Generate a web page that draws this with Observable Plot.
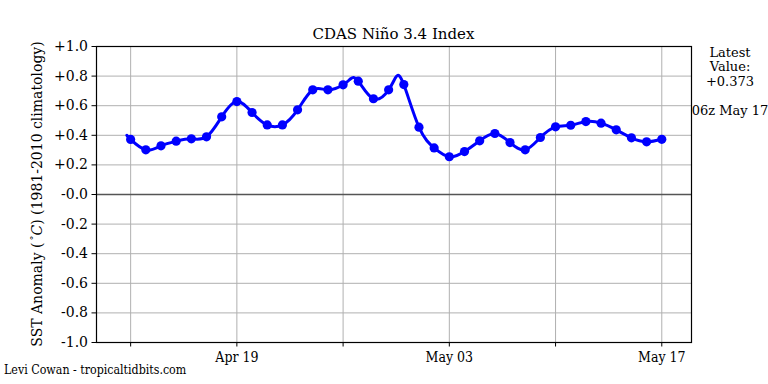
<!DOCTYPE html>
<html>
<head>
<meta charset="utf-8">
<script src="https://cdn.jsdelivr.net/npm/d3@7"></script>
<script src="https://cdn.jsdelivr.net/npm/@observablehq/plot@0.6"></script>
<style>
  html, body { margin: 0; padding: 0; background: #fff; }
  svg { font-family: "DejaVu Serif", serif; }
</style>
</head>
<body>
<div id="chart"></div>
<script>
// ---- data ----
const firstDay = "2020-04-12";
const dailyValues = [
  0.372, 0.302, 0.329, 0.360, 0.376, 0.390, 0.525, 0.628, 0.554, 0.470,
  0.470, 0.572, 0.707, 0.707, 0.741, 0.766, 0.647, 0.707, 0.743, 0.455,
  0.315, 0.255, 0.290, 0.363, 0.412, 0.351, 0.302, 0.385, 0.457, 0.468,
  0.493, 0.482, 0.437, 0.383, 0.356, 0.373
];
// sub-daily samples of the curve (start and two peaks)
const extraTimes = ["2020-04-11T18:00Z", "2020-04-26T12:00Z", "2020-04-29T12:00Z"];
const extraValues = [0.400, 0.782, 0.797];

const xTickDates = ["2020-04-12", "2020-04-19", "2020-04-26", "2020-05-03", "2020-05-10", "2020-05-17"];
const xTickLabels = ["", "Apr 19", "", "May 03", "", "May 17"];
const yTicks = [-1.0, -0.8, -0.6, -0.4, -0.2, 0.0, 0.2, 0.4, 0.6, 0.8, 1.0];
const yTickLabels = ["-1.0", "-0.8", "-0.6", "-0.4", "-0.2", "-0.0", "+0.2", "+0.4", "+0.6", "+0.8", "+1.0"];
const xDomain = ["2020-04-09T18:00Z", "2020-05-18T23:00Z"];

const titleText = "CDAS Niño 3.4 Index";
const sideLines = ["Latest", "Value:", "+0.373"];
const sideTime = "06z May 17";
const footer = "Levi Cowan - tropicaltidbits.com";

// ---- build tables ----
const day0 = new Date(firstDay + "T00:00Z");
const points = dailyValues.map((v, i) => ({ t: new Date(+day0 + i * 864e5), v }));
const linePts = points.concat(extraTimes.map((t, i) => ({ t: new Date(t), v: extraValues[i] })))
  .sort((a, b) => a.t - b.t);
const xTicks = xTickDates.map(d => new Date(d + "T00:00Z"));
const labelMap = new Map(xTicks.map((d, i) => [+d, xTickLabels[i]]));
const yLabelMap = new Map(yTicks.map((d, i) => [d.toFixed(1), yTickLabels[i]]));

const grid = "#b0b0b0";
const chart = Plot.plot({
  width: 768,
  height: 384,
  marginLeft: 96,
  marginRight: 77,
  marginTop: 46,
  marginBottom: 42,
  style: { fontFamily: "DejaVu Serif", background: "white" },
  x: { type: "utc", domain: xDomain.map(d => new Date(d)) },
  y: { domain: [-1, 1] },
  marks: [
    Plot.gridX(xTicks, { stroke: grid, strokeOpacity: 1, strokeWidth: 1 }),
    Plot.gridY(yTicks, { stroke: grid, strokeOpacity: 1, strokeWidth: 1 }),
    Plot.ruleY([0], { stroke: "#555", strokeWidth: 1.3 }),
    Plot.line(linePts, { x: "t", y: "v", curve: "natural", stroke: "#0000ff", strokeWidth: 3 }),
    Plot.dot(points, { x: "t", y: "v", r: 4.6, fill: "#0000ff", stroke: "none" }),
    Plot.axisX({
      ticks: xTicks, tickSize: 4.5, tickPadding: 5, label: null,
      tickFormat: d => labelMap.get(+d) || "",
      fontSize: 14, fontFamily: "DejaVu Serif Condensed", fill: "black"
    }),
    Plot.axisY({
      ticks: yTicks, tickSize: 4.5, tickPadding: 4, label: null,
      tickFormat: d => yLabelMap.get(d.toFixed(1)),
      fontSize: 14, fontFamily: "DejaVu Serif", fill: "black"
    }),
    Plot.frame({ stroke: "black", strokeWidth: 1.2 })
  ]
});
document.getElementById("chart").appendChild(chart);

// ---- annotations ----
const svg = d3.select(chart);
svg.append("text")
  .attr("x", 393.5).attr("y", 38.5)
  .attr("text-anchor", "middle")
  .style("font-family", "DejaVu Serif").style("font-size", "15px")
  .text(titleText);

sideLines.forEach((s, i) => {
  svg.append("text")
    .attr("x", 730).attr("y", 56.5 + i * 14.5)
    .attr("text-anchor", "middle")
    .style("font-family", "DejaVu Serif").style("font-size", "13px")
    .text(s);
});
svg.append("text")
  .attr("x", 730).attr("y", 114.5)
  .attr("text-anchor", "middle")
  .style("font-family", "DejaVu Serif").style("font-size", "13px")
  .text(sideTime);

svg.append("text")
  .attr("x", 4).attr("y", 373.5)
  .attr("text-anchor", "start")
  .style("font-family", "DejaVu Serif Condensed").style("font-size", "12.3px")
  .text(footer);

const yl = svg.append("text")
  .attr("transform", "translate(42,194) rotate(-90)")
  .attr("text-anchor", "middle")
  .style("font-family", "DejaVu Serif").style("font-size", "14px");
yl.append("tspan").text("SST Anomaly (");
yl.append("tspan").attr("dy", -5).style("font-size", "10px").text("\u2009\u00B0");
yl.append("tspan").attr("dy", 5).style("font-style", "italic").text("C");
yl.append("tspan").text(") (1981-2010 climatology)");
</script>
</body>
</html>
